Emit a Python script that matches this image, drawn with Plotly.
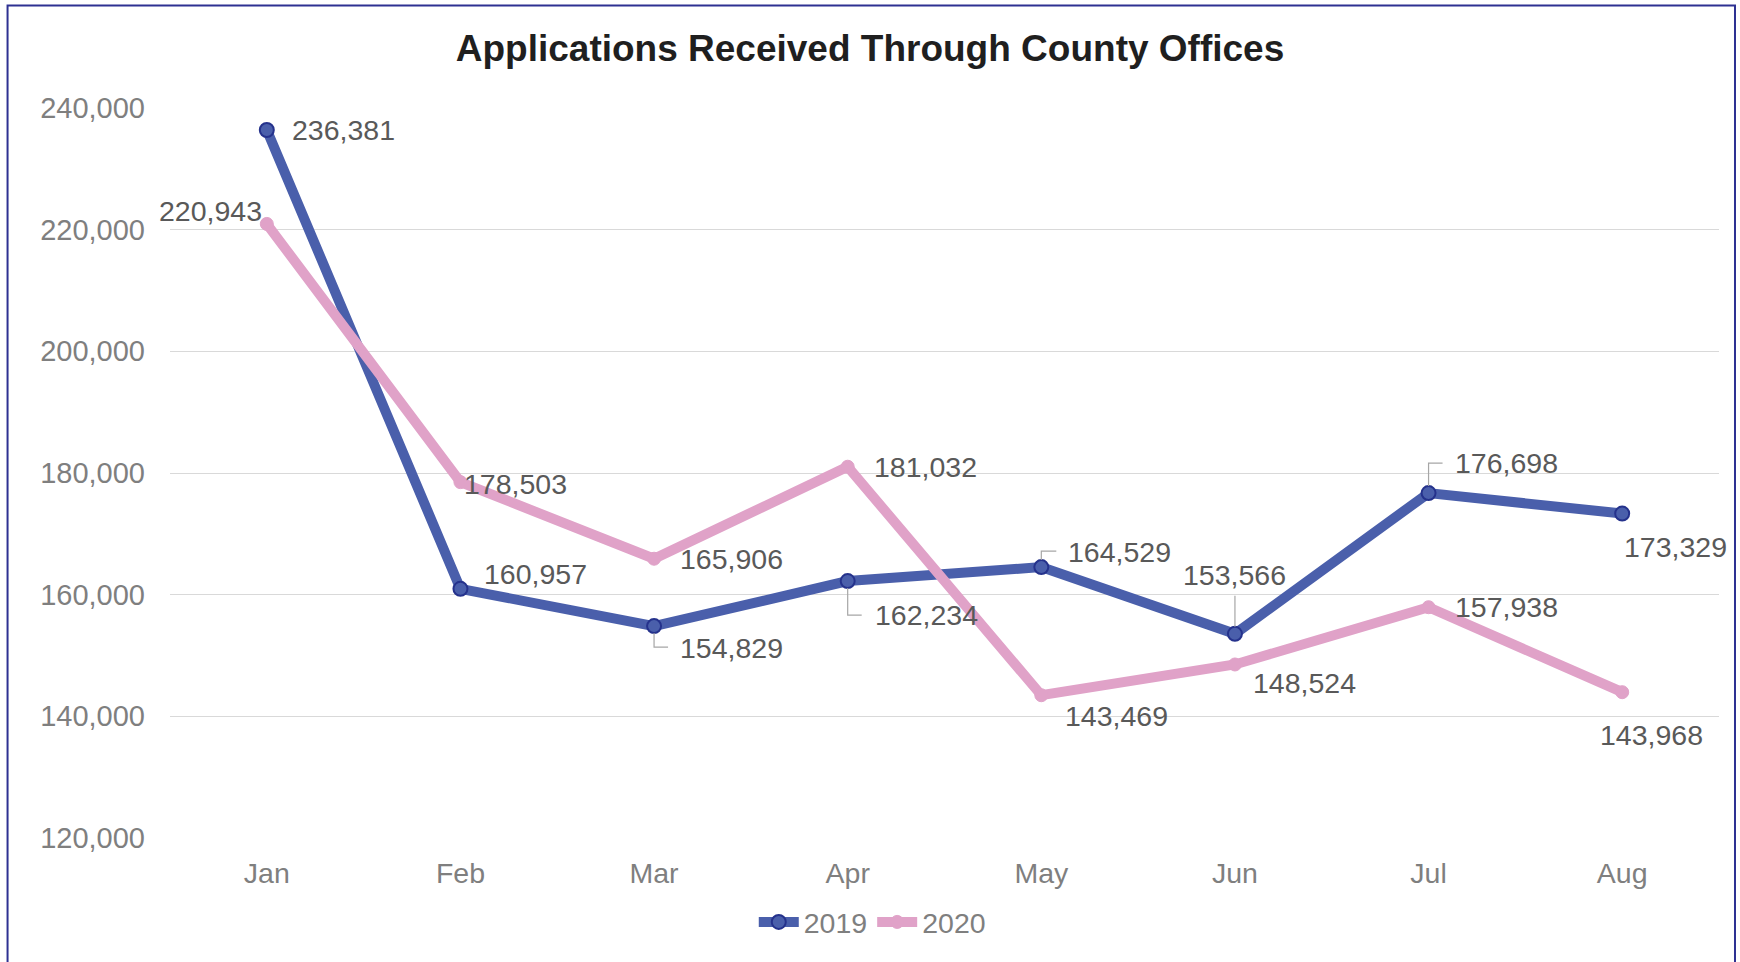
import plotly.graph_objects as go

# ---- data ----
months = ["Jan", "Feb", "Mar", "Apr", "May", "Jun", "Jul", "Aug"]
apps_2019 = [236381, 160957, 154829, 162234, 164529, 153566, 176698, 173329]
apps_2020 = [220943, 178503, 165906, 181032, 143469, 148524, 157938, 143968]
y_ticks = [120000, 140000, 160000, 180000, 200000, 220000, 240000]
title_text = "Applications Received Through County Offices"

# ---- styles ----
FONT = "Liberation Sans, Arial, sans-serif"
BLUE = "#4A5FAB"
BLUE_EDGE = "#25328C"
PINK = "#E0A2C8"
LABEL_C = "#595959"
TICK_C = "#7F7F7F"

# label placement per point: (xanchor, xshift, yshift)
pos_2019 = [("left", 23, 0), ("left", 22, 15), ("left", 24, -22), ("left", 25, -34),
            ("left", 25, 15), ("center", 0, 59), ("left", 24, 30), ("left", 0, -33)]
pos_2020 = [("right", -3, 13), ("left", 2, -2), ("left", 24, 0), ("left", 24, 0),
            ("left", 22, -21), ("left", 16, -19), ("left", 24, 0), ("center", 29, -43)]
# leader-line paths (pixels, relative to the point, y up) for 2019 labels
leaders_2019 = {2: "M0,-7 V-21 H14", 3: "M0,-7 V-34 H14", 4: "M0,7 V16 H15",
                5: "M0,7 V38", 6: "M0,7 V30 H14"}

fig = go.Figure()
fig.add_trace(go.Scatter(
    x=months, y=apps_2019, name="2019", mode="lines+markers",
    line=dict(color=BLUE, width=10),
    marker=dict(size=14, color=BLUE, line=dict(color=BLUE_EDGE, width=2)),
    cliponaxis=False,
))
fig.add_trace(go.Scatter(
    x=months, y=apps_2020, name="2020", mode="lines+markers",
    line=dict(color=PINK, width=10),
    marker=dict(size=13, color=PINK, line=dict(color=PINK, width=1)),
    cliponaxis=False,
))

annotations = []
for vals, pos in ((apps_2019, pos_2019), (apps_2020, pos_2020)):
    for m, v, (xa, xs, ys) in zip(months, vals, pos):
        annotations.append(dict(
            x=m, y=v, xref="x", yref="y", text=f"{v:,}", showarrow=False,
            xanchor=xa, yanchor="middle", xshift=xs, yshift=ys,
            font=dict(family=FONT, size=28.5, color=LABEL_C),
        ))

shapes = []
for i, path in leaders_2019.items():
    shapes.append(dict(
        type="path", xref="x", yref="y", xsizemode="pixel", ysizemode="pixel",
        xanchor=months[i], yanchor=apps_2019[i], path=path,
        line=dict(color="#A6A6A6", width=1.2), layer="above",
    ))

# chart border
W, H = 1740, 962
ML, MR, MT, MB = 169.5, 21, 107.6, 124.4
pw, ph = W - ML - MR, H - MT - MB
def px(xp): return (xp - ML) / pw
def py(yp): return (H - MB - yp) / ph
shapes.append(dict(type="rect", xref="paper", yref="paper",
                   x0=px(7), x1=px(1735), y0=py(970), y1=py(5),
                   line=dict(color="#2E3192", width=2), fillcolor="rgba(0,0,0,0)",
                   layer="below"))

fig.update_layout(
    width=W, height=H,
    margin=dict(l=ML, r=MR, t=MT, b=MB, pad=0),
    paper_bgcolor="white", plot_bgcolor="white",
    font=dict(family=FONT, color=TICK_C),
    title=dict(text=f"<b>{title_text}</b>", x=0.5, xref="container", xanchor="center",
               y=1 - 48 / H, yref="container", yanchor="middle",
               font=dict(family=FONT, size=37, color="#1F1F1F")),
    xaxis=dict(type="category", categoryorder="array", categoryarray=months,
               range=[-0.5, len(months) - 0.5], showgrid=False, zeroline=False,
               showline=False, ticks="", ticklabelstandoff=15,
               tickfont=dict(family=FONT, size=28.5, color=TICK_C)),
    yaxis=dict(range=[120000, 240000], tickvals=y_ticks,
               ticktext=[f"{t:,}" for t in y_ticks],
               showgrid=True, gridcolor="#D9D9D9", gridwidth=1.3,
               zeroline=False, showline=False, ticks="", ticklabelstandoff=24,
               tickfont=dict(family=FONT, size=29, color=TICK_C)),
    legend=dict(orientation="h", x=px(872), xanchor="center", y=py(922), yanchor="middle",
                font=dict(family=FONT, size=28.5, color=TICK_C), itemwidth=40,
                bgcolor="rgba(0,0,0,0)", traceorder="normal"),
    annotations=annotations, shapes=shapes,
    showlegend=True,
)

fig.write_html("out.html")
